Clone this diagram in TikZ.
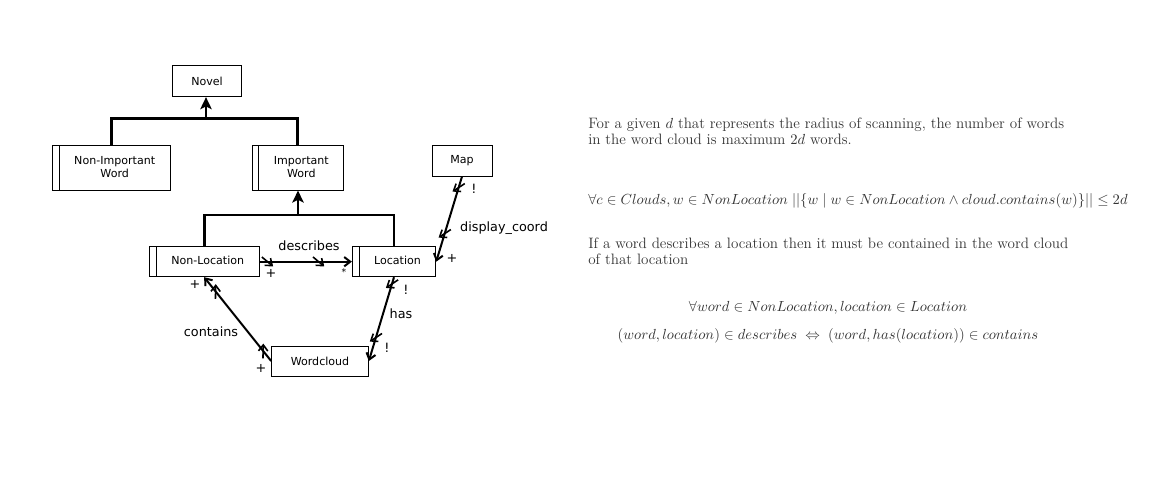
\documentclass[tikz,border=0pt]{standalone}
\usepackage{fontspec}
\newfontfamily\dvs{DejaVu Sans}
\usetikzlibrary{arrows.meta,decorations.markings}
\newcommand\clstext[1]{\hspace*{5.25pt}\begin{tabular}{@{}c@{}}#1\end{tabular}}
\begin{document}
\begin{tikzpicture}[x=0.75pt,y=-0.75pt,
  box/.style={draw, line width=0.75pt, font=\dvs\fontsize{8.3}{9.75}\selectfont, align=center, inner sep=0pt},
  cls/.style={draw, line width=0.75pt, font=\dvs\fontsize{8.3}{9.75}\selectfont, inner sep=0pt,
    path picture={\draw[line width=0.75pt] ([xshift=5pt]path picture bounding box.north west) -- ([xshift=5pt]path picture bounding box.south west);}},
  genl/.style={line width=2pt},
  gen/.style={line width=2pt, -{Stealth[length=9pt,width=8.5pt,inset=2pt]}},
  assoc/.style={line width=1.5pt, -{Straight Barb[length=4.5pt,width=7pt]}},
  tickmarks/.style 2 args={postaction={decorate, decoration={markings,
      mark=at position #1 with {\draw[line width=1.2pt] (140:5.5pt) -- (-40:5.5pt);},
      mark=at position #2 with {\draw[line width=1.2pt] (140:5.5pt) -- (-40:5.5pt);}}}},
  lbl/.style={font=\dvs\fontsize{9.6}{11}\selectfont, inner sep=0pt},
  para/.style={anchor=base west, align=left, inner sep=0pt, text=black!80, font=\fontsize{11.3}{12}\selectfont},
  frm/.style={inner sep=0pt, text=black!80, font=\fontsize{11.1}{12}\selectfont}
]
\useasboundingbox (0,0) rectangle (1169,481);

% classes
\node[box, minimum width=51.75pt, minimum height=23pt] (novel) at (207,81.3) {Novel};
\node[cls, minimum width=88.3pt, minimum height=33.2pt] (nonimp) at (111.2,167.9) {\clstext{Non-Important\\Word}};
\node[cls, minimum width=68.25pt, minimum height=33.2pt] (imp) at (297.8,167.9) {\clstext{Important\\Word}};
\node[box, minimum width=45pt, minimum height=22.5pt] (map) at (462,161) {Map};
\node[cls, minimum width=82.3pt, minimum height=22.5pt] (nonloc) at (204.2,261.7) {\clstext{Non-Location}};
\node[cls, minimum width=62.5pt, minimum height=22.5pt] (loc) at (394,261.7) {\clstext{Location}};
\node[box, minimum width=72.5pt, minimum height=22.5pt] (cloud) at (320,361) {Wordcloud};

% generalisations
\coordinate (j1) at (206,118.3);
\draw[genl] (nonimp.north) |- (j1) -| (imp.north);
\draw[gen] (j1) -- (j1 |- novel.south);
\coordinate (j2) at (298,215);
\draw[genl] (nonloc.north) |- (j2) -| (loc.north);
\draw[gen] (j2) -- (j2 |- imp.south);

% associations
\draw[assoc, tickmarks={0.086}{0.64}] (nonloc.east) -- (loc.west);
\draw[assoc, tickmarks={0.12}{0.83}] (cloud.west) -- (nonloc.south);
\draw[assoc, tickmarks={0.08}{0.72}] (loc.south) -- (cloud.east);
\draw[assoc, tickmarks={0.13}{0.67}] (map.south) -- (loc.east);

% association labels
\node[lbl] (ldesc) at (309,246) {describes};
\node[lbl] (ldp) at (271,273) {+};
\node[lbl, font=\dvs\fontsize{7}{8}\selectfont] (lds) at (344,272) {*};
\node[lbl] (lcont) at (211,332) {contains};
\node[lbl] (lcp1) at (195,284) {+};
\node[lbl] (lcp2) at (261,368) {+};
\node[lbl] (lhas) at (401,314) {has};
\node[lbl] (lhe1) at (406,290) {!};
\node[lbl] (lhe2) at (387,348) {!};
\node[lbl] (ldisp) at (504,228) {display\_coord};
\node[lbl] (ldie) at (474,189) {!};
\node[lbl] (ldip) at (452,258) {+};

% text
\node[para] (p1) at (588,144) {For a given $d$ that represents the radius of scanning, the number of words\\in the word cloud is maximum $2d$ words.};
\node[frm, anchor=base west] (f1) at (588,204) {$\forall c \in Clouds, w \in NonLocation \; ||\{w \mid w \in NonLocation \land cloud.contains(w)\}|| \le 2d$};
\node[para] (p2) at (588,264) {If a word describes a location then it must be contained in the word cloud\\of that location};
\node[frm] (f2) at (828,308) {$\forall word \in NonLocation, location \in Location$};
\node[frm] (f3) at (828,336) {$(word,location) \in describes \;\Leftrightarrow\; (word, has(location)) \in contains$};
\end{tikzpicture}
\end{document}
